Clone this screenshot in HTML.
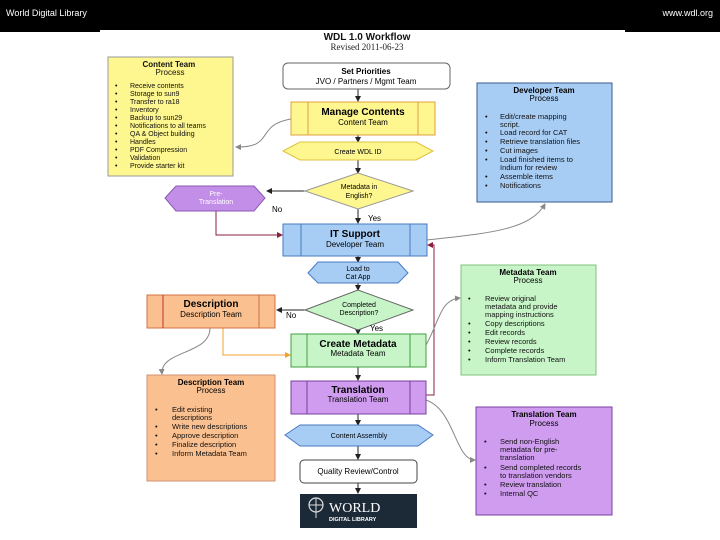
<!DOCTYPE html>
<html><head><meta charset="utf-8"><style>
html,body{margin:0;padding:0;background:#000;}
svg{display:block;}
text{font-family:"Liberation Sans",Arial,sans-serif;}
</style></head><body>
<svg width="720" height="540" viewBox="0 0 720 540" xmlns="http://www.w3.org/2000/svg">
<defs>
<marker id="ak" markerWidth="6" markerHeight="6" refX="5" refY="3" orient="auto"><path d="M0,0 L6,3 L0,6z" fill="#222"/></marker>
<marker id="ag" markerWidth="6" markerHeight="6" refX="5" refY="3" orient="auto"><path d="M0,0 L6,3 L0,6z" fill="#888"/></marker>
<marker id="ar" markerWidth="6" markerHeight="6" refX="5" refY="3" orient="auto"><path d="M0,0 L6,3 L0,6z" fill="#8a2040"/></marker>
<marker id="ao" markerWidth="6" markerHeight="6" refX="5" refY="3" orient="auto"><path d="M0,0 L6,3 L0,6z" fill="#f0a030"/></marker>
</defs>
<rect x="0" y="0" width="720" height="540" fill="#000"/>
<rect x="100" y="30" width="525" height="510" fill="#fff"/>
<rect x="0" y="30" width="100" height="510" fill="#fff"/>
<rect x="625" y="30" width="95" height="510" fill="#fff"/>
<rect x="0" y="0" width="720" height="30" fill="#000"/>
<rect x="0" y="30" width="100" height="2" fill="#000"/>
<rect x="625" y="30" width="95" height="2" fill="#000"/>
<text x="6" y="16" font-size="9" fill="#fff">World Digital Library</text>
<text x="713" y="16" font-size="9" fill="#fff" text-anchor="end">www.wdl.org</text>

<text x="367" y="40" font-size="10" font-weight="bold" text-anchor="middle" fill="#111">WDL 1.0 Workflow</text>
<text x="367" y="50" font-size="9" text-anchor="middle" fill="#222" style="font-family:'Liberation Serif',serif">Revised 2011-06-23</text>

<!-- connectors -->
<g stroke="#222" stroke-width="1" fill="none" marker-end="url(#ak)">
<line x1="358" y1="89" x2="358" y2="101"/>
<line x1="358" y1="135" x2="358" y2="142"/>
<line x1="358" y1="160" x2="358" y2="173"/>
<line x1="358" y1="209" x2="358" y2="223"/>
<line x1="305" y1="191" x2="267" y2="191"/>
<line x1="358" y1="256" x2="358" y2="262"/>
<line x1="358" y1="283" x2="358" y2="290"/>
<line x1="305" y1="310" x2="277" y2="310"/>
<line x1="358" y1="330" x2="358" y2="334"/>
<line x1="358" y1="367" x2="358" y2="380"/>
<line x1="358" y1="414" x2="358" y2="425"/>
<line x1="358" y1="446" x2="358" y2="459"/>
<line x1="358" y1="483" x2="358" y2="493"/>
</g>
<g stroke="#8a2040" stroke-width="1" fill="none" marker-end="url(#ar)">
<polyline points="216,211 216,235 282,235"/>
<polyline points="426,395 434,395 434,245 428,245"/>
</g>
<polyline points="223,328 223,355 290,355" stroke="#f0a030" stroke-width="1" fill="none" marker-end="url(#ao)"/>
<g stroke="#888" stroke-width="1" fill="none" marker-end="url(#ag)">
<path d="M291,119 C255,125 275,148 236,147"/>
<path d="M427,240 C490,233 530,230 545,204"/>
<path d="M210,328 C210,355 160,350 162,374"/>
<path d="M426,345 C440,320 440,300 460,298"/>
<path d="M426,400 C455,410 455,460 475,460"/>
</g>

<!-- Content team -->
<rect x="108" y="57" width="125" height="119" fill="#fef68e" stroke="#999" stroke-width="1"/>
<text font-size="8" fill="#111">
<tstyle/>
<tspan x="170" y="67" text-anchor="middle" font-weight="bold">Content Team</tspan>
<tspan x="170" y="75" text-anchor="middle">Process</tspan>
</text>
<g font-size="7" fill="#111">
<text x="115" y="88">•</text><text x="130" y="88">Receive contents</text>
<text x="115" y="96">•</text><text x="130" y="96">Storage to sun9</text>
<text x="115" y="104">•</text><text x="130" y="104">Transfer to ra18</text>
<text x="115" y="112">•</text><text x="130" y="112">Inventory</text>
<text x="115" y="120">•</text><text x="130" y="120">Backup to sun29</text>
<text x="115" y="128">•</text><text x="130" y="128">Notifications to all teams</text>
<text x="115" y="136">•</text><text x="130" y="136">QA &amp; Object building</text>
<text x="115" y="144">•</text><text x="130" y="144">Handles</text>
<text x="115" y="152">•</text><text x="130" y="152">PDF Compression</text>
<text x="115" y="160">•</text><text x="130" y="160">Validation</text>
<text x="115" y="168">•</text><text x="130" y="168">Provide starter kit</text>
</g>

<!-- Set priorities -->
<rect x="283" y="63" width="167" height="26" rx="5" fill="#fff" stroke="#666"/>
<text x="366" y="74" font-size="8" font-weight="bold" text-anchor="middle">Set Priorities</text>
<text x="366" y="84" font-size="8" text-anchor="middle">JVO / Partners / Mgmt Team</text>

<!-- Manage Contents -->
<rect x="291" y="102" width="144" height="33" fill="#fef68e" stroke="#e0a040"/>
<line x1="308" y1="102" x2="308" y2="135" stroke="#e0a040"/><line x1="418" y1="102" x2="418" y2="135" stroke="#e0a040"/>
<text x="363" y="115" font-size="10" font-weight="bold" text-anchor="middle">Manage Contents</text>
<text x="363" y="125" font-size="8" text-anchor="middle">Content Team</text>

<polygon points="283,151 300,142 416,142 433,151 416,160 300,160" fill="#fef68e" stroke="#e0c040"/>
<text x="358" y="154" font-size="7" text-anchor="middle">Create WDL ID</text>

<polygon points="305,191 358,173 413,191 358,209" fill="#fef68e" stroke="#999"/>
<text x="359" y="189" font-size="7" text-anchor="middle">Metadata in</text>
<text x="359" y="198" font-size="7" text-anchor="middle">English?</text>

<polygon points="165,198 176,186 254,186 265,198 254,211 176,211" fill="#c28ee8" stroke="#8a5ab0"/>
<text x="216" y="196" font-size="7" text-anchor="middle" fill="#fff">Pre-</text>
<text x="216" y="204" font-size="7" text-anchor="middle" fill="#fff">Translation</text>
<text x="272" y="212" font-size="8">No</text>
<text x="368" y="221" font-size="8">Yes</text>

<!-- IT support -->
<rect x="283" y="224" width="144" height="32" fill="#a8cdf5" stroke="#4a7ac0"/>
<line x1="301" y1="224" x2="301" y2="256" stroke="#4a7ac0"/><line x1="410" y1="224" x2="410" y2="256" stroke="#4a7ac0"/>
<text x="355" y="237" font-size="10" font-weight="bold" text-anchor="middle">IT Support</text>
<text x="355" y="247" font-size="8" text-anchor="middle">Developer Team</text>

<!-- Developer team -->
<rect x="477" y="83" width="135" height="119" fill="#a8cdf5" stroke="#3a5a90"/>
<text x="544" y="93" font-size="8" font-weight="bold" text-anchor="middle">Developer Team</text>
<text x="544" y="101" font-size="8" text-anchor="middle">Process</text>
<g font-size="7.5" fill="#111">
<text x="485" y="119">•</text><text x="500" y="119">Edit/create mapping</text><text x="500" y="127">script.</text>
<text x="485" y="135">•</text><text x="500" y="135">Load record for CAT</text>
<text x="485" y="144">•</text><text x="500" y="144">Retrieve translation files</text>
<text x="485" y="153">•</text><text x="500" y="153">Cut images</text>
<text x="485" y="162">•</text><text x="500" y="162">Load finished items to</text><text x="500" y="170">Indium for review</text>
<text x="485" y="179">•</text><text x="500" y="179">Assemble items</text>
<text x="485" y="188">•</text><text x="500" y="188">Notifications</text>
</g>

<polygon points="308,273 318,262 398,262 408,273 398,283 318,283" fill="#a8cdf5" stroke="#4a7ac0"/>
<text x="358" y="271" font-size="7" text-anchor="middle">Load to</text>
<text x="358" y="279" font-size="7" text-anchor="middle">Cat App</text>

<polygon points="305,310 358,290 413,310 358,330" fill="#c8f5c8" stroke="#666"/>
<text x="359" y="307" font-size="7" text-anchor="middle">Completed</text>
<text x="359" y="315" font-size="7" text-anchor="middle">Description?</text>

<!-- Description -->
<rect x="147" y="295" width="128" height="33" fill="#fbc08f" stroke="#d07040"/>
<line x1="163" y1="295" x2="163" y2="328" stroke="#c03030"/><line x1="259" y1="295" x2="259" y2="328" stroke="#d07040"/>
<text x="211" y="307" font-size="10" font-weight="bold" text-anchor="middle">Description</text>
<text x="211" y="317" font-size="8" text-anchor="middle">Description Team</text>
<text x="286" y="318" font-size="8">No</text>
<text x="370" y="331" font-size="8">Yes</text>

<!-- Create Metadata -->
<rect x="291" y="334" width="135" height="33" fill="#c8f5c8" stroke="#40a040"/>
<line x1="307" y1="334" x2="307" y2="367" stroke="#40a040"/><line x1="410" y1="334" x2="410" y2="367" stroke="#40a040"/>
<text x="358" y="347" font-size="10" font-weight="bold" text-anchor="middle">Create Metadata</text>
<text x="358" y="356" font-size="8" text-anchor="middle">Metadata Team</text>

<!-- Metadata team -->
<rect x="461" y="265" width="135" height="110" fill="#c8f5c8" stroke="#80c080"/>
<text x="528" y="275" font-size="8" font-weight="bold" text-anchor="middle">Metadata Team</text>
<text x="528" y="283" font-size="8" text-anchor="middle">Process</text>
<g font-size="7.5" fill="#111">
<text x="468" y="301">•</text><text x="485" y="301">Review original</text><text x="485" y="309">metadata and provide</text><text x="485" y="317">mapping instructions</text>
<text x="468" y="326">•</text><text x="485" y="326">Copy descriptions</text>
<text x="468" y="335">•</text><text x="485" y="335">Edit records</text>
<text x="468" y="344">•</text><text x="485" y="344">Review records</text>
<text x="468" y="353">•</text><text x="485" y="353">Complete records</text>
<text x="468" y="362">•</text><text x="485" y="362">Inform Translation Team</text>
</g>

<!-- Description team process -->
<rect x="147" y="375" width="128" height="106" fill="#fbc08f" stroke="#d09070"/>
<text x="211" y="385" font-size="8" font-weight="bold" text-anchor="middle">Description Team</text>
<text x="211" y="393" font-size="8" text-anchor="middle">Process</text>
<g font-size="7.5" fill="#111">
<text x="155" y="412">•</text><text x="172" y="412">Edit existing</text><text x="172" y="420">descriptions</text>
<text x="155" y="429">•</text><text x="172" y="429">Write new descriptions</text>
<text x="155" y="438">•</text><text x="172" y="438">Approve description</text>
<text x="155" y="447">•</text><text x="172" y="447">Finalize description</text>
<text x="155" y="456">•</text><text x="172" y="456">Inform Metadata Team</text>
</g>

<!-- Translation -->
<rect x="291" y="381" width="135" height="33" fill="#cf9cf0" stroke="#7a40a0"/>
<line x1="307" y1="381" x2="307" y2="414" stroke="#7a40a0"/><line x1="410" y1="381" x2="410" y2="414" stroke="#7a40a0"/>
<text x="358" y="393" font-size="10" font-weight="bold" text-anchor="middle">Translation</text>
<text x="358" y="402" font-size="8" text-anchor="middle">Translation Team</text>

<!-- Translation team -->
<rect x="476" y="407" width="136" height="108" fill="#cf9cf0" stroke="#7a40a0"/>
<text x="544" y="417" font-size="8" font-weight="bold" text-anchor="middle">Translation Team</text>
<text x="544" y="426" font-size="8" text-anchor="middle">Process</text>
<g font-size="7.5" fill="#111">
<text x="484" y="444">•</text><text x="500" y="444">Send non-English</text><text x="500" y="452">metadata for pre-</text><text x="500" y="460">translation</text>
<text x="484" y="470">•</text><text x="500" y="470">Send completed records</text><text x="500" y="478">to translation vendors</text>
<text x="484" y="487">•</text><text x="500" y="487">Review translation</text>
<text x="484" y="496">•</text><text x="500" y="496">Internal QC</text>
</g>

<polygon points="285,435 300,425 418,425 433,435 418,446 300,446" fill="#a8cdf5" stroke="#4a7ac0"/>
<text x="359" y="438" font-size="7" text-anchor="middle">Content Assembly</text>

<rect x="300" y="460" width="117" height="23" rx="4" fill="#fff" stroke="#444"/>
<text x="358" y="474" font-size="8" text-anchor="middle">Quality Review/Control</text>

<rect x="300" y="494" width="117" height="34" fill="#1c2a38"/>
<circle cx="316" cy="505" r="7" fill="none" stroke="#ddd" stroke-width="1.2"/>
<line x1="309" y1="505" x2="323" y2="505" stroke="#ddd"/><line x1="316" y1="498" x2="316" y2="518" stroke="#ddd"/>
<text x="329" y="512" font-size="14" fill="#fff" style="font-family:'Liberation Serif',serif">WORLD</text>
<text x="329" y="521" font-size="5.5" fill="#fff" font-weight="bold">DIGITAL LIBRARY</text>
</svg>
</body></html>
